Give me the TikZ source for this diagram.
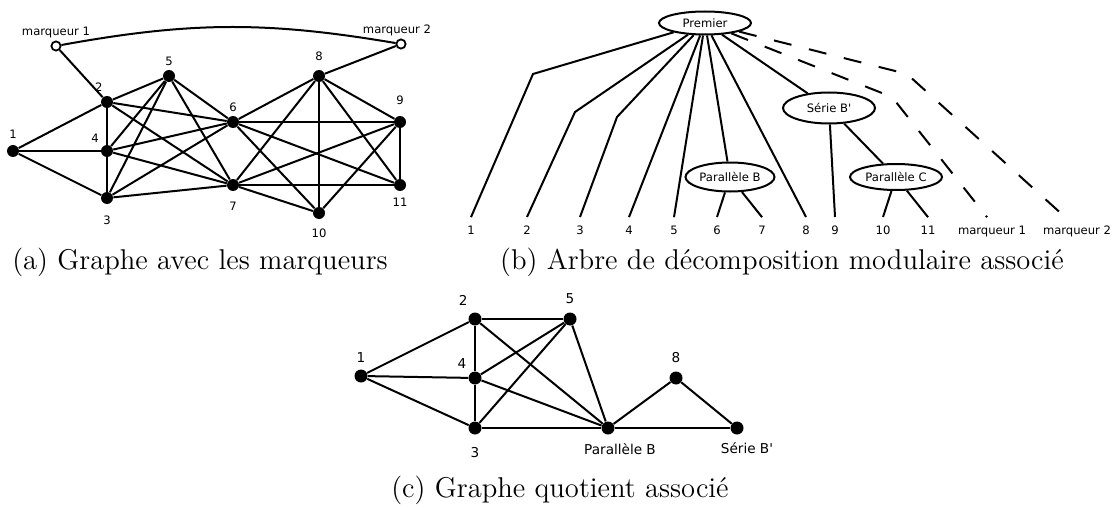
\documentclass[tikz,border=0pt]{standalone}
\usepackage{fontspec}
\usepackage{tikz}
\usetikzlibrary{shapes.geometric}
\newfontfamily\dejavu{DejaVu Sans}[Ligatures=TeXOff]
\newcommand\smallsf{\dejavu\fontsize{5.8}{7}\selectfont}
\newcommand\midsf{\dejavu\fontsize{6.8}{8}\selectfont}
\tikzset{
  v/.style={circle,fill=black,inner sep=0pt,minimum size=6pt},
  vc/.style={v,minimum size=6.5pt},
  mk/.style={circle,draw,fill=white,line width=0.9pt,inner sep=0pt,minimum size=4.6pt},
  lbl/.style={font=\smallsf,inner sep=1pt,label distance=1pt},
  lblc/.style={font=\midsf,inner sep=1pt,label distance=1pt},
  edge/.style={line width=1pt},
  ell/.style={ellipse,draw,line width=1pt,inner sep=0pt,font=\smallsf},
  leaf/.style={anchor=base,inner sep=4pt,font=\smallsf},
  dashln/.style={line width=1pt,dash pattern=on 9pt off 9pt},
  capt/.style={font=\fontsize{14.3}{17}\selectfont,inner sep=0pt},
}
\begin{document}
\begin{tikzpicture}[x=0.5pt,y=-0.5pt]
\useasboundingbox (0,0) rectangle (1118,508);

% (a) graphe avec les marqueurs
\node[mk,label={[lbl,label distance=0pt]above:marqueur 1}] (am1) at (56,46) {};
\node[mk,label={[lbl,label distance=0pt,xshift=-2pt]above:marqueur 2}] (am2) at (401,44) {};
\node[v,label={[lbl,label distance=2pt]above:1}] (a1) at (13,151) {};
\node[v,label={[lbl]105:2}] (a2) at (107,102) {};
\node[v,label={[lbl,label distance=4.4pt]below:3}] (a3) at (107,198) {};
\node[v,label={[lbl]135:4}] (a4) at (107,151) {};
\node[v,label={[lbl]above:5}] (a5) at (169,76) {};
\node[v,label={[lbl]above:6}] (a6) at (233,122) {};
\node[v,label={[lbl,label distance=3.9pt]below:7}] (a7) at (233,185) {};
\node[v,label={[lbl,label distance=3.4pt]above:8}] (a8) at (319,76) {};
\node[v,label={[lbl,label distance=4.4pt]above:9}] (a9) at (400,122) {};
\node[v,label={[lbl,label distance=3.4pt]below:10}] (a10) at (319,213) {};
\node[v,label={[lbl,label distance=2pt]below:11}] (a11) at (400,185) {};
\foreach \i/\j in {1/2,1/4,1/3,2/5,2/4,2/6,2/7,5/4,5/3,5/6,5/7,4/3,4/6,4/7,3/6,3/7,
  6/8,6/9,6/11,6/10,7/8,7/9,7/11,7/10,8/9,8/10,8/11,9/11,9/10}
  \draw[edge] (a\i) -- (a\j);
\draw[edge] (am1) -- (a2);
\draw[edge] (am2) -- (a8);
\draw[edge] (am1) to[bend left=10] (am2);
\node[capt] (capa) at (200,262) {(a) Graphe avec les marqueurs};

% (b) arbre de decomposition
\node[ell,minimum width=46pt,minimum height=11.5pt] (prem) at (705,23) {Premier};
\node[ell,minimum width=44.5pt,minimum height=14.5pt] (pb) at (730,177) {Parallèle B};
\node[ell,minimum width=46pt,minimum height=15.5pt] (sb) at (829,108) {Série B'};
\node[ell,minimum width=46pt,minimum height=13pt] (pc) at (896,177) {Parallèle C};
\foreach \n/\x in {1/471,2/527,3/580,4/629,5/674,6/717,7/762,8/806,9/835,10/883,11/928}
  \node[leaf] (l\n) at (\x,234) {\n};
\node[leaf] (lm1) at (992,234) {marqueur 1};
\node[leaf] (lm2) at (1077,234) {marqueur 2};
\coordinate (k1) at (533,74);
\coordinate (k2) at (575,112);
\coordinate (k3) at (617,117);
\coordinate (km1) at (892,97);
\coordinate (km2) at (907,74);
\draw[edge] (prem) -- (k1) -- (l1.north);
\draw[edge] (prem) -- (k2) -- (l2.north);
\draw[edge] (prem) -- (k3) -- (l3.north);
\foreach \n in {4,5,8}
  \draw[edge] (prem) -- (l\n.north);
\draw[edge] (prem) -- (pb);
\draw[edge] (prem) -- (sb);
\draw[edge] (pb) -- (l6.north);
\draw[edge] (pb) -- (l7.north);
\draw[edge] (sb) -- (l9.north);
\draw[edge] (sb) -- (pc);
\draw[edge] (pc) -- (l10.north);
\draw[edge] (pc) -- (l11.north);
\draw[dashln,rounded corners=3pt] (prem) -- (km1) -- ([xshift=-2.5pt]lm1.north);
\draw[dashln] (prem) -- (km2) -- ([xshift=-6pt]lm2.north);
\node[capt] (capb) at (782,262) {(b) Arbre de décomposition modulaire associé};

% (c) graphe quotient
\node[vc,label={[lblc,label distance=2.3pt]above:1}] (c1) at (361,376) {};
\node[vc,label={[lblc,label distance=2.5pt]115:2}] (c2) at (475,319) {};
\node[vc,label={[lblc,label distance=5.3pt]below:3}] (c3) at (475,428) {};
\node[vc,label={[lblc,label distance=1.5pt]130:4}] (c4) at (475,378) {};
\node[vc,label={[lblc,label distance=2.8pt]above:5}] (c5) at (570,319) {};
\node[vc,label={[lblc,label distance=2.8pt]above:8}] (c8) at (676,378) {};
\node[vc,label={[lblc,label distance=3pt,xshift=6pt]below:Parallèle B}] (cpb) at (608,428) {};
\node[vc,label={[lblc,label distance=2.6pt,xshift=5pt]below:Série B'}] (csb) at (737,428) {};
\foreach \i/\j in {1/2,1/4,1/3,2/5,2/4,2/pb,4/5,4/3,4/pb,3/5,3/pb,5/pb,pb/8,8/sb,pb/sb}
  \draw[edge] (c\i) -- (c\j);
\node[capt] (capc) at (560,490) {(c) Graphe quotient associé};
\end{tikzpicture}
\end{document}
